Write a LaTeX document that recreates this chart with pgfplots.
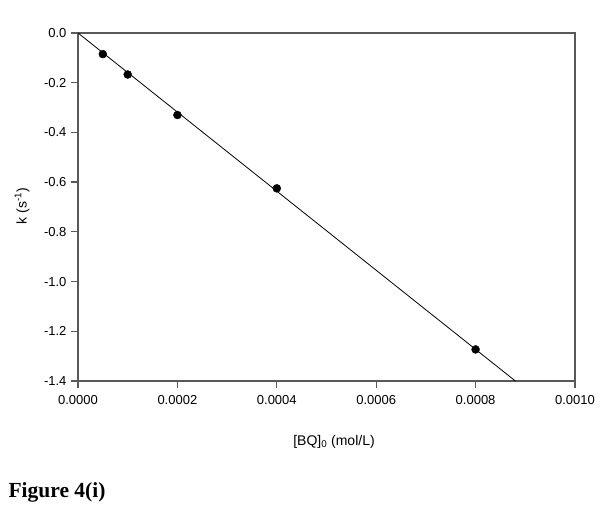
\documentclass[border=0pt]{standalone}
\usepackage{fontspec}
\setmainfont{Liberation Sans}
\newfontfamily\capfont{Liberation Serif}
\usepackage{pgfplots}
\pgfplotsset{compat=1.18}
\begin{document}
\begin{tikzpicture}[x=1pt,y=1pt]
\useasboundingbox (0,0) rectangle (600,510);
\begin{axis}[
  at={(78pt,129pt)}, anchor=south west,
  scale only axis, width=497pt, height=348pt,
  xmin=0, xmax=0.001, ymin=-1.4, ymax=0,
  xtick={0,0.0002,0.0004,0.0006,0.0008,0.001},
  ytick={-1.4,-1.2,-1.0,-0.8,-0.6,-0.4,-0.2,0},
  scaled x ticks=false,
  xticklabel style={/pgf/number format/.cd, fixed, fixed zerofill, precision=4, assume math mode=true},
  yticklabel style={/pgf/number format/.cd, fixed, fixed zerofill, precision=1, assume math mode=true},
  tick label style={font=\fontsize{13}{15}\selectfont},
  axis line style={draw=gray!70!black, line width=1.3pt},
  tick style={draw=gray!70!black, line width=1.3pt},
  tick align=outside, major tick length=7pt,
  xtick pos=bottom, ytick pos=left,
  xticklabel shift=4pt, yticklabel shift=1pt,
  clip=false,
]
\addplot[black, line width=0.8pt] coordinates {(0,0) (0.00088,-1.4)};
\addplot[only marks, mark=*, mark size=4pt, black] coordinates {
(0.00005,-0.085) (0.0001,-0.167) (0.0002,-0.330) (0.0004,-0.625) (0.0008,-1.273)};
\end{axis}
\node[font=\fontsize{14}{16}\selectfont] at (334,68) {[BQ]\textsubscript{0} (mol/L)};
\node[font=\fontsize{14}{16}\selectfont, rotate=90] at (22,304) {k (s\textsuperscript{-1})};
\node[font=\capfont\bfseries\fontsize{21.5}{24}\selectfont, anchor=west] at (5,18) {Figure 4(i)};
\end{tikzpicture}
\end{document}
